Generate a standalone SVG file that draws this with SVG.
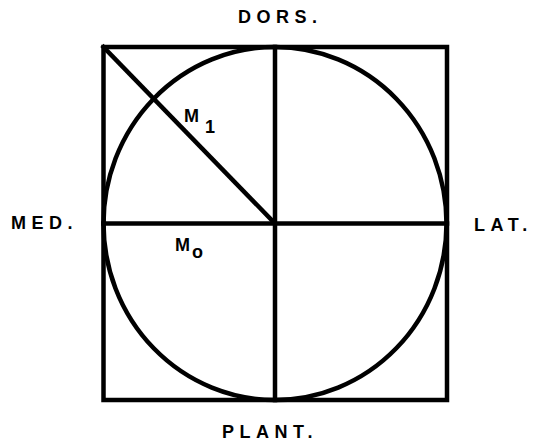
<svg xmlns="http://www.w3.org/2000/svg" width="539" height="443" viewBox="0 0 539 443">
<style>
.ln{stroke:#000;stroke-width:4.5;fill:none;stroke-linecap:square}
.lb{font-family:"Liberation Sans",Arial,sans-serif;font-weight:bold;font-size:18px;letter-spacing:5.5px;fill:#000}
.m{font-family:"Liberation Sans",Arial,sans-serif;font-weight:bold;font-size:18px;fill:#000}
</style>
<rect width="539" height="443" fill="#fff"/>
<g id="frame">
<rect class="ln" x="103.5" y="47" width="343.5" height="353"/>
<ellipse class="ln" cx="275" cy="223.5" rx="171.5" ry="176.5"/>
</g>
<g id="connectors">
<line class="ln" x1="275" y1="47" x2="275" y2="400"/>
<line class="ln" x1="103.5" y1="223.5" x2="447" y2="223.5"/>
<line class="ln" x1="103.5" y1="47" x2="275" y2="223.5"/>
</g>
<g id="labels">
<text class="lb" x="238" y="23">DORS.</text>
<text class="lb" x="11" y="229">MED.</text>
<text class="lb" x="474" y="231">LAT.</text>
<text class="lb" x="222" y="438">PLANT.</text>
<text class="m" x="184" y="122">M</text>
<text class="m" x="205" y="133" font-size="16">1</text>
<text class="m" x="175" y="251">M</text>
<text class="m" x="192" y="258" font-size="16">o</text>
</g>
</svg>
